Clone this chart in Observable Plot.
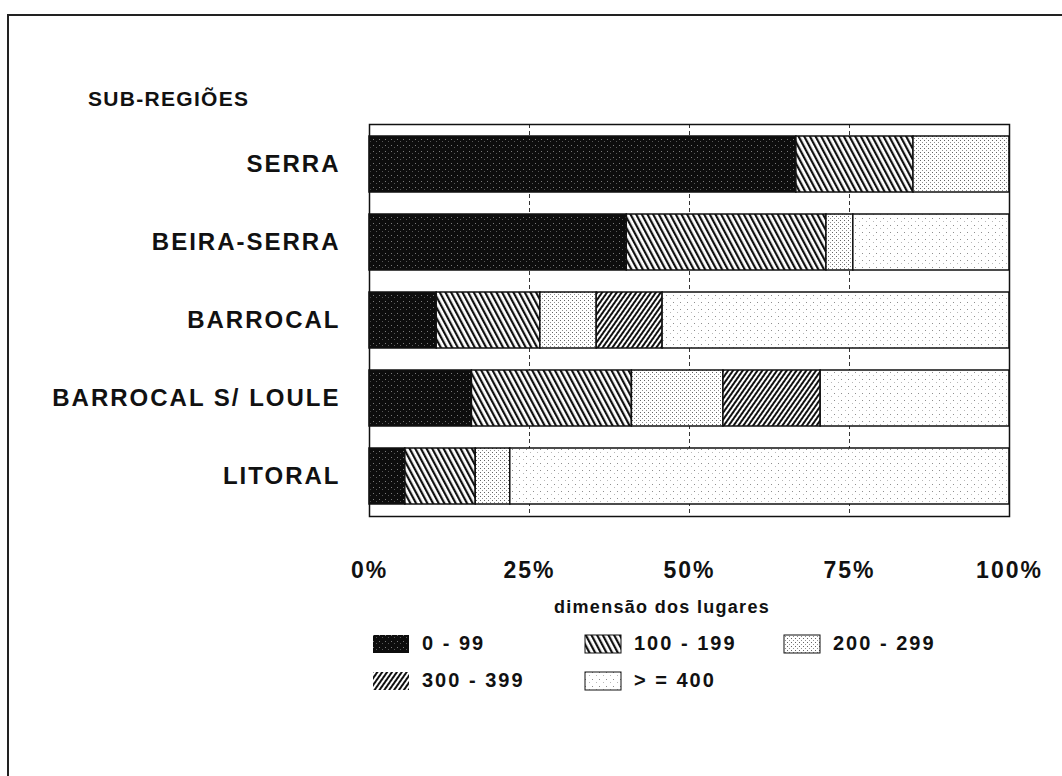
<!DOCTYPE html>
<html>
<head>
<meta charset="utf-8">
<script src="https://cdn.jsdelivr.net/npm/d3@7"></script>
<script src="https://cdn.jsdelivr.net/npm/@observablehq/plot@0.6"></script>
<style>
  html, body { margin: 0; padding: 0; background: #fff; }
  body { width: 1062px; height: 776px; position: relative; overflow: hidden;
         font-family: "Liberation Sans", Arial, sans-serif; font-weight: bold; color: #111; }
  #border { position: absolute; left: 7px; top: 14px; width: 1062px; height: 780px;
            border-top: 2px solid #222; border-left: 2px solid #222; }
  #chart { position: absolute; left: 0; top: 0; }
  #title { position: absolute; left: 88px; top: 87px; font-size: 21px; letter-spacing: 1.3px; }
  #legtitle { position: absolute; left: 0; width: 1324px; top: 597px; text-align: center;
              font-size: 18px; letter-spacing: 1.3px; }
  .leg { position: absolute; display: flex; align-items: center; font-size: 20px; letter-spacing: 2px; }
  .leg svg { margin-right: 12px; }
</style>
</head>
<body>
<svg width="0" height="0" style="position:absolute">
  <defs>
    <pattern id="p0" width="6" height="6" patternUnits="userSpaceOnUse">
      <rect width="6" height="6" fill="#0d0d0d"/>
      <rect x="1" y="1" width="1" height="1" fill="#fff" opacity="0.45"/>
      <rect x="4" y="3" width="1" height="1" fill="#fff" opacity="0.3"/>
    </pattern>
    <pattern id="p1" width="5" height="10" patternUnits="userSpaceOnUse" patternTransform="rotate(-28)">
      <rect width="5" height="10" fill="#fff"/>
      <rect x="0" y="0" width="2.2" height="10" fill="#111"/>
    </pattern>
    <pattern id="p2" width="4" height="4" patternUnits="userSpaceOnUse">
      <rect width="4" height="4" fill="#fff"/>
      <rect x="0" y="0" width="1" height="1" fill="#222" opacity="0.7"/>
      <rect x="2" y="2" width="1" height="1" fill="#222" opacity="0.5"/>
    </pattern>
    <pattern id="p3" width="4" height="10" patternUnits="userSpaceOnUse" patternTransform="rotate(35)">
      <rect width="4" height="10" fill="#fff"/>
      <rect x="0" y="0" width="2" height="10" fill="#111"/>
    </pattern>
    <pattern id="p4" width="7" height="7" patternUnits="userSpaceOnUse">
      <rect width="7" height="7" fill="#fff"/>
      <rect x="1" y="1" width="1" height="1" fill="#333" opacity="0.55"/>
      <rect x="5" y="4" width="1" height="1" fill="#333" opacity="0.35"/>
    </pattern>
  </defs>
</svg>
<div id="border"></div>
<div id="chart"></div>
<div id="title">SUB-REGIÕES</div>
<div id="legtitle">dimensão dos lugares</div>
<div id="legend"></div>
<script>
// ---- data (percent of places by size class, per sub-region) ----
const regions = ["SERRA", "BEIRA-SERRA", "BARROCAL", "BARROCAL S/ LOULE", "LITORAL"];
const groups = ["0 - 99", "100 - 199", "200 - 299", "300 - 399", "> = 400"];
const v0_99    = [66.7, 40.2, 10.5, 16.0,  5.6];
const v100_199 = [18.3, 31.2, 16.2, 25.0, 11.0];
const v200_299 = [15.0,  4.2,  8.8, 14.3,  5.4];
const v300_399 = [ 0.0,  0.0, 10.3, 15.2,  0.0];
const v400     = [ 0.0, 24.4, 54.2, 29.5, 78.0];
const xTicks = [0, 25, 50, 75, 100];
const patterns = ["url(#p0)", "url(#p1)", "url(#p2)", "url(#p3)", "url(#p4)"];

const series = [v0_99, v100_199, v200_299, v300_399, v400];
const data = regions.flatMap((r, i) =>
  groups.map((g, j) => ({region: r, group: g, value: series[j][i]}))
).filter(d => d.value > 0);

const chart = Plot.plot({
  width: 1062,
  height: 600,
  marginLeft: 369,
  marginRight: 53,
  marginTop: 124,
  marginBottom: 84,
  style: {fontFamily: "Liberation Sans, Arial, sans-serif", fontWeight: "bold", letterSpacing: "2px", color: "#111", background: "transparent"},
  x: {domain: [0, 100], label: null},
  y: {domain: regions, paddingInner: 0.28, paddingOuter: 0.13, label: null},
  color: {type: "ordinal", domain: groups, range: patterns},
  marks: [
    Plot.ruleX([25, 50, 75], {stroke: "#333", strokeWidth: 1, strokeDasharray: "4,3"}),
    Plot.barX(data, Plot.stackX({x: "value", y: "region", fill: "group", stroke: "#111", strokeWidth: 1.5, order: null})),
    Plot.frame({stroke: "#111", strokeWidth: 1.5}),
    Plot.axisY({tickSize: 0, tickPadding: 29, fontSize: 24, label: null}),
    Plot.axisX({ticks: xTicks, tickFormat: d => d + "%", tickSize: 0, tickPadding: 45, fontSize: 23, label: null})
  ]
});
document.getElementById("chart").appendChild(chart);

// ---- legend ----
const legPos = [[372, 632], [584, 632], [783, 632], [372, 669], [584, 669]];
const legend = document.getElementById("legend");
groups.forEach((g, j) => {
  const div = document.createElement("div");
  div.className = "leg";
  div.style.left = legPos[j][0] + "px";
  div.style.top = legPos[j][1] + "px";
  div.innerHTML = `<svg width="38" height="20"><rect x="1" y="1" width="36" height="18" fill="${patterns[j]}" stroke="#111" stroke-width="${j === 0 || j === 3 ? 0 : 1}"/></svg><span>${g}</span>`;
  legend.appendChild(div);
});
</script>
</body>
</html>
